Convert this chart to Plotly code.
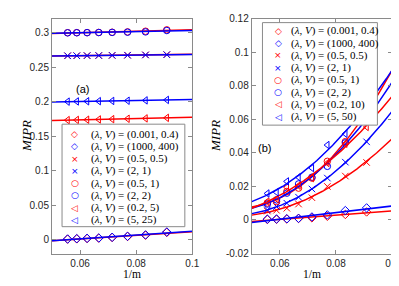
import numpy as np
import plotly.graph_objects as go

# ---------------- data ----------------
m_values = [18, 17, 16, 15, 14, 13, 12, 11]
x_vals = [1.0 / m for m in m_values]

colors = ["#ff0000", "#0000ff", "#ff0000", "#0000ff", "#ff0000", "#0000ff", "#ff0000", "#0000ff"]
symbols = ["diamond-open", "diamond-open", "x-thin-open", "x-thin-open",
           "circle-open", "circle-open", "triangle-left-open", "triangle-left-open"]
legend_glyphs = ["◇", "◇", "×", "×", "○", "○", "◁", "◁"]

labels_a = ["(0.001, 0.4)", "(1000, 400)", "(0.5, 0.5)", "(2, 1)",
            "(0.5, 1)", "(2, 2)", "(0.2, 5)", "(5, 25)"]
labels_b = ["(0.001, 0.4)", "(1000, 400)", "(0.5, 0.5)", "(2, 1)",
            "(0.5, 1)", "(2, 2)", "(0.2, 10)", "(5, 50)"]

# panel (a) values
a_red_diamond = [0.0008, 0.0012, 0.0017, 0.0023, 0.0032, 0.0046, 0.0065, 0.0105]
a_blue_diamond = [0.0010, 0.0015, 0.0020, 0.0025, 0.0035, 0.0050, 0.0070, 0.0112]
a_red_x = [0.2664, 0.2665, 0.2667, 0.2668, 0.2670, 0.2673, 0.2677, 0.2681]
a_blue_x = [0.2664, 0.2665, 0.2666, 0.2668, 0.2670, 0.2672, 0.2676, 0.2680]
a_red_circle = [0.2998, 0.2999, 0.3000, 0.3002, 0.3005, 0.3010, 0.3020, 0.3040]
a_blue_circle = [0.2997, 0.2998, 0.2999, 0.3001, 0.3003, 0.3006, 0.3010, 0.3030]
a_red_tri = [0.1732, 0.1735, 0.1738, 0.1742, 0.1746, 0.1752, 0.1757, 0.1765]
a_blue_tri = [0.2000, 0.2003, 0.2005, 0.2007, 0.2010, 0.2013, 0.2018, 0.2025]

# panel (b) values
b_red_diamond = [0.0003, 0.0004, 0.0006, 0.0009, 0.0013, 0.0022, 0.0033, 0.0048]
b_blue_diamond = [0.0005, 0.0006, 0.0007, 0.0010, 0.0018, 0.0030, 0.0056, 0.0072]
b_red_x = [0.0053, 0.0058, 0.0070, 0.0095, 0.0133, 0.0200, 0.0262, 0.0343]
b_blue_x = [0.0060, 0.0080, 0.0100, 0.0136, 0.0185, 0.0250, 0.0345, 0.0466]
b_red_circle = [0.0101, 0.0110, 0.0170, 0.0190, 0.0250, 0.0350, 0.0467, None]
b_blue_circle = [0.0095, 0.0120, 0.0160, 0.0215, 0.0255, 0.0320, 0.0460, None]
b_red_tri = [0.0110, 0.0125, 0.0195, 0.0205, 0.0250, 0.0340, 0.0455, 0.0555]
b_blue_tri = [0.0158, 0.0165, 0.0230, 0.0255, 0.0310, 0.0447, 0.0514, None]

series_a = [a_red_diamond, a_blue_diamond, a_red_x, a_blue_x,
            a_red_circle, a_blue_circle, a_red_tri, a_blue_tri]
series_b = [b_red_diamond, b_blue_diamond, b_red_x, b_blue_x,
            b_red_circle, b_blue_circle, b_red_tri, b_blue_tri]

x_ticks = [0.06, 0.08, 0.1]
x_ticktext = ["0.06", "0.08", "0.1"]
ya_ticks = [0, 0.05, 0.1, 0.15, 0.2, 0.25, 0.3]
ya_ticktext = ["0", "0.05", "0.1", "0.15", "0.2", "0.25", "0.3"]
yb_ticks = [-0.02, 0, 0.02, 0.04, 0.06, 0.08, 0.1, 0.12]
yb_ticktext = ["-0.02", "0", "0.02", "0.04", "0.06", "0.08", "0.1", "0.12"]

# ---------------- helpers ----------------
W, H = 399, 286
xfit = np.linspace(0.05, 0.1, 120)


def clean(xs, ys):
    pts = [(x, y) for x, y in zip(xs, ys) if y is not None]
    return np.array([p[0] for p in pts]), np.array([p[1] for p in pts])


def polyfit_curve(xs, ys, deg):
    x, y = clean(xs, ys)
    c = np.polyfit(x, y, deg)
    return np.polyval(c, xfit)


fig = go.Figure()

for i, ys in enumerate(series_a):
    fig.add_trace(go.Scatter(x=xfit, y=polyfit_curve(x_vals, ys, 1), mode="lines",
                             line=dict(color=colors[i], width=1.5),
                             xaxis="x", yaxis="y", showlegend=False, hoverinfo="skip"))
    fig.add_trace(go.Scatter(x=x_vals, y=ys, mode="markers",
                             marker=dict(symbol=symbols[i], color=colors[i], size=6.5,
                                         line=dict(width=1, color=colors[i])),
                             xaxis="x", yaxis="y", showlegend=False))

for i, ys in enumerate(series_b):
    fit = polyfit_curve(x_vals, ys, 1 if i < 2 else 2)
    fig.add_trace(go.Scatter(x=xfit, y=fit, mode="lines",
                             line=dict(color=colors[i], width=1.5),
                             xaxis="x2", yaxis="y2", showlegend=False, hoverinfo="skip"))
    fig.add_trace(go.Scatter(x=x_vals, y=ys, mode="markers",
                             marker=dict(symbol=symbols[i], color=colors[i], size=6.5,
                                         line=dict(width=1, color=colors[i])),
                             xaxis="x2", yaxis="y2", showlegend=False))

axcol = "#8a8a8a"
tickfont = dict(family="Liberation Sans, Arial, sans-serif", size=10, color="#262626")
common_ax = dict(showline=True, linecolor=axcol, linewidth=1, mirror="ticks",
                 ticks="inside", ticklen=4, tickcolor=axcol, showgrid=False,
                 zeroline=False, tickfont=tickfont, ticklabeloverflow="allow")

top = 1 - 5 / H
bot = 1 - 250 / H
fig.update_layout(
    width=W, height=H, margin=dict(l=0, r=0, t=0, b=0),
    paper_bgcolor="white", plot_bgcolor="white", showlegend=False,
    xaxis=dict(domain=[44.8 / W, 187.6 / W], range=[0.05, 0.1000001], tickvals=x_ticks,
               ticktext=x_ticktext, anchor="y", **common_ax),
    yaxis=dict(domain=[bot, top], range=[-0.02, 0.32], tickvals=ya_ticks,
               ticktext=ya_ticktext, anchor="x", **common_ax),
    xaxis2=dict(domain=[248.1 / W, 391 / W], range=[0.05, 0.1000001], tickvals=x_ticks,
                ticktext=x_ticktext, anchor="y2", **common_ax),
    yaxis2=dict(domain=[bot, top], range=[-0.02, 0.1200001], tickvals=yb_ticks,
                ticktext=yb_ticktext, anchor="x2", **common_ax),
)

# ---------------- legends (drawn as box + annotations) ----------------
serif = "Liberation Serif, Times New Roman, serif"
shapes = []
annots = []


def legend(box, marker_x, text_x, row0, dy, labels):
    x0, y0, x1, y1 = box
    shapes.append(dict(type="rect", xref="paper", yref="paper", layer="above",
                       x0=x0 / W, x1=x1 / W, y0=1 - y0 / H, y1=1 - y1 / H,
                       fillcolor="white", line=dict(color=axcol, width=1)))
    for i, lab in enumerate(labels):
        yy = 1 - (row0 + i * dy) / H
        annots.append(dict(xref="paper", yref="paper", x=marker_x / W, y=yy,
                           text=legend_glyphs[i], showarrow=False, xanchor="center",
                           yanchor="middle",
                           font=dict(family="DejaVu Sans", size=9, color=colors[i])))
        annots.append(dict(xref="paper", yref="paper", x=text_x / W, y=yy,
                           text="(<i>λ</i>, <i>V</i>) = " + lab, showarrow=False,
                           xanchor="left", yanchor="middle",
                           font=dict(family=serif, size=11, color="black")))


legend((55, 115, 180, 222), 68, 82, 125.5, 12.75, labels_a)
legend((259, 9, 376, 116), 275, 286, 17.5, 12.8, labels_b)

# panel labels and axis titles
annots.append(dict(xref="paper", yref="paper", x=67 / W, y=1 - 70 / H, text="(a)",
                   showarrow=False, font=dict(family="Liberation Sans", size=11, color="black")))
annots.append(dict(xref="paper", yref="paper", x=270 / W, y=1 - 140 / H, text="(b)",
                   showarrow=False, font=dict(family="Liberation Sans", size=11, color="black")))
for xp in (9, 211):
    annots.append(dict(xref="paper", yref="paper", x=xp / W, y=1 - 127 / H,
                       text="<i>MIPR</i>", textangle=-90, showarrow=False,
                       font=dict(family=serif, size=13, color="black")))
for xp in ((44.8 + 187.6) / 2, (248.1 + 391) / 2):
    annots.append(dict(xref="paper", yref="paper", x=xp / W, y=1 - 278.5 / H,
                       text="1/m", showarrow=False, borderpad=0,
                       font=dict(family=serif, size=11.5, color="black")))

fig.update_layout(shapes=shapes, annotations=annots)
fig.write_html("out.html")
